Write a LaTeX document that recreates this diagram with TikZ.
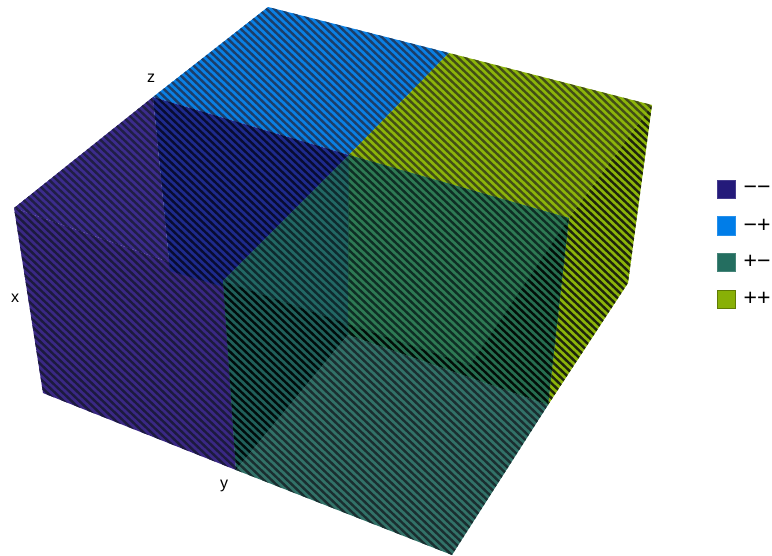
\documentclass[tikz,border=0pt]{standalone}
\usepackage{fontspec}
\setmainfont{Liberation Sans}
\definecolor{blueB}{RGB}{10,128,228}\definecolor{blueS}{RGB}{28,62,105}
\definecolor{oliveB}{RGB}{140,180,10}\definecolor{oliveS}{RGB}{66,78,22}
\definecolor{oliveD}{RGB}{30,36,12}
\definecolor{navyB}{RGB}{30,42,140}\definecolor{navyS}{RGB}{8,12,50}
\definecolor{purpB}{RGB}{60,44,140}\definecolor{purpS}{RGB}{32,30,70}
\definecolor{purpC}{RGB}{58,40,132}\definecolor{purpT}{RGB}{28,26,62}
\definecolor{tealB}{RGB}{34,104,100}\definecolor{tealS}{RGB}{14,42,46}
\definecolor{grenB}{RGB}{46,122,84}\definecolor{grenS}{RGB}{14,46,36}
\definecolor{darkB}{RGB}{38,110,80}\definecolor{darkS}{RGB}{2,14,8}
\definecolor{dtelB}{RGB}{32,96,90}\definecolor{dtelS}{RGB}{0,12,12}
\definecolor{lowB}{RGB}{50,114,104}\definecolor{lowS}{RGB}{26,46,48}
\definecolor{under}{RGB}{30,60,70}
\definecolor{lgA}{RGB}{36,26,122}\definecolor{lgB}{RGB}{0,125,232}
\definecolor{lgC}{RGB}{36,110,96}\definecolor{lgD}{RGB}{136,176,6}
\newcommand{\facet}[3]{%
  \begin{scope}
    \clip #3 -- cycle;
    \fill[#1] (0,0) rectangle (772,555);
    \draw[stripe,#2] foreach \c in {-740,-732.6,...,560}{(0,\c) -- (772,\c+733.4)};
  \end{scope}}
\tikzset{
  stripe/.style={line width=2.4pt},
  swatch/.style={minimum width=18.5pt,minimum height=18.5pt,inner sep=0pt,line width=.6pt},
  legtext/.style={font=\fontsize{23}{23}\selectfont,anchor=west,inner sep=0pt},
  axtext/.style={font=\fontsize{16}{16}\selectfont,text=black,inner sep=0pt}
}
\begin{document}
\begin{tikzpicture}[x=1pt,y=-1pt]
\useasboundingbox (0,0) rectangle (772,555);
\coordinate (A) at (14,208);
\coordinate (B) at (268,7);
\coordinate (C) at (652,105);
\coordinate (D) at (628,283);
\coordinate (E) at (452,555);
\coordinate (F) at (43,393);
\coordinate (G) at (236,470);
\coordinate (Q) at (470,365);
\coordinate (P) at (548,405);
\coordinate (ABm) at (153,97);
\coordinate (BCm) at (449,53);
\coordinate (Cm) at (349,155);
\coordinate (CQm) at (569,218);
\coordinate (AQm) at (223,281);
\coordinate (Bc) at (348,335);
\coordinate (Mc) at (348,324);
\coordinate (N1) at (170,271);
\coordinate (N2) at (224,287);
\facet{under}{under}{(Cm) -- (CQm) -- (P) -- (Bc) -- (G) -- (AQm)}
\facet{blueB}{blueS}{(ABm) -- (B) -- (BCm) -- (Cm)}
\facet{oliveB}{oliveS}{(BCm) -- (C) -- (CQm) -- (Cm)}
\facet{oliveB}{oliveD}{(C) -- (D) -- (P) -- (CQm)}
\facet{purpB}{purpS}{(A) -- (ABm) -- (N1) -- (N2) -- (AQm)}
\facet{purpC}{purpT}{(A) -- (AQm) -- (N2) -- (G) -- (F)}
\facet{navyB}{navyS}{(ABm) -- (Cm) -- (AQm) -- (N2) -- (N1)}
\facet{tealB}{tealS}{(AQm) -- (Cm) -- (Mc)}
\facet{grenB}{grenS}{(Cm) -- (CQm) -- (Q) -- (Mc)}
\facet{darkB}{darkS}{(CQm) -- (P) -- (Bc) -- (Mc) -- (Q)}
\facet{dtelB}{dtelS}{(AQm) -- (Mc) -- (Bc) -- (G)}
\facet{lowB}{lowS}{(G) -- (Bc) -- (P) -- (E)}
\node[axtext] (lz) at (151,78) {z};
\node[axtext] (lx) at (15,298) {x};
\node[axtext] (ly) at (224,486) {y};
\node[swatch,fill=lgA,draw=lgA!85!white] (s1) at (726.5,189.5) {};
\node[swatch,fill=lgB,draw=lgB!85!white] (s2) at (726.5,226) {};
\node[swatch,fill=lgC,draw=lgC!85!white] (s3) at (726.5,262.5) {};
\node[swatch,fill=lgD,draw=lgD!70!black] (s4) at (726.5,299.5) {};
\node[legtext] (t1) at (743.5,190) {−−};
\node[legtext] (t2) at (743.5,226) {−+};
\node[legtext] (t3) at (743.5,262) {+−};
\node[legtext] (t4) at (743.5,299) {++};
\end{tikzpicture}
\end{document}
